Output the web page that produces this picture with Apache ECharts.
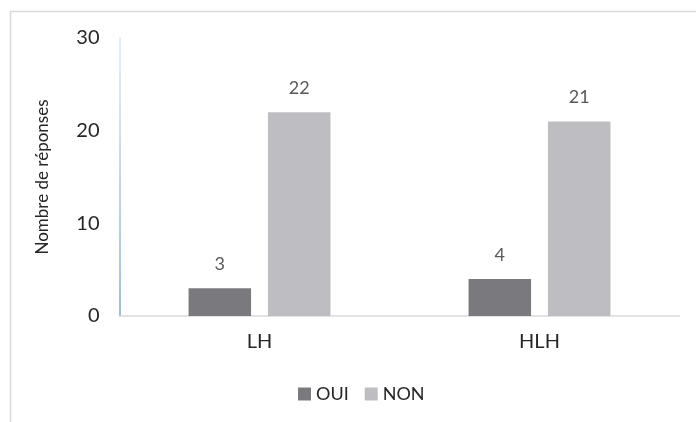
<!DOCTYPE html>
<html>
<head>
<meta charset="utf-8">
<script src="https://cdn.jsdelivr.net/npm/echarts@6/dist/echarts.min.js"></script>
<style>
  html, body { margin: 0; padding: 0; background: #ffffff; }
  #chart { width: 696px; height: 422px; }
</style>
</head>
<body>
<div id="chart"></div>
<script>
  // categories and values
  var categories = ['LH', 'HLH'];
  var oui = [3, 4];
  var non = [22, 21];
  var yTicks = [0, 10, 20, 30];

  var font = 'Lato';
  var myChart = echarts.init(document.getElementById('chart'));
  var option = {
    backgroundColor: '#ffffff',
    textStyle: { fontFamily: font },
    graphic: [
      {
        type: 'rect',
        shape: { x: 10.5, y: 11.5, width: 700, height: 420 },
        style: { fill: 'none', stroke: '#d9d9d9', lineWidth: 1.5 },
        silent: true
      }
    ],
    grid: {
      left: 119.5,
      right: 16.5,
      top: 38,
      bottom: 106,
      containLabel: false
    },
    legend: {
      data: ['OUI', 'NON'],
      top: 380,
      left: 293,
      itemWidth: 13,
      itemHeight: 13,
      itemGap: 16,
      icon: 'rect',
      textStyle: { fontFamily: font, fontSize: 18, color: '#262626' }
    },
    xAxis: {
      type: 'category',
      data: categories,
      axisTick: { show: false },
      axisLine: { lineStyle: { color: '#d9d9d9', width: 1.5 } },
      axisLabel: { margin: 16, fontSize: 20, color: '#262626', fontFamily: font }
    },
    yAxis: {
      type: 'value',
      min: yTicks[0],
      max: yTicks[yTicks.length - 1],
      interval: 10,
      name: 'Nombre de réponses',
      nameLocation: 'middle',
      nameGap: 68,
      nameTextStyle: { fontSize: 17, color: '#262626', fontFamily: font },
      splitLine: { show: false },
      axisTick: { show: false },
      axisLine: {
        show: true,
        lineStyle: {
          width: 2,
          color: new echarts.graphic.LinearGradient(0, 0, 0, 1, [
            { offset: 0, color: '#e8f0f9' },
            { offset: 1, color: '#9dbde4' }
          ])
        }
      },
      axisLabel: { margin: 20, fontSize: 20, color: '#262626', fontFamily: font }
    },
    series: [
      {
        name: 'OUI',
        type: 'bar',
        data: oui,
        barWidth: 62.5,
        barGap: '27%',
        itemStyle: { color: '#7a7a7e' },
        label: { show: true, position: 'top', distance: 15, fontSize: 18, color: '#595959', fontFamily: font }
      },
      {
        name: 'NON',
        type: 'bar',
        data: non,
        barWidth: 62.5,
        itemStyle: { color: '#bebec2' },
        label: { show: true, position: 'top', distance: 15, fontSize: 18, color: '#595959', fontFamily: font }
      }
    ]
  };
  myChart.setOption(option);
</script>
</body>
</html>
